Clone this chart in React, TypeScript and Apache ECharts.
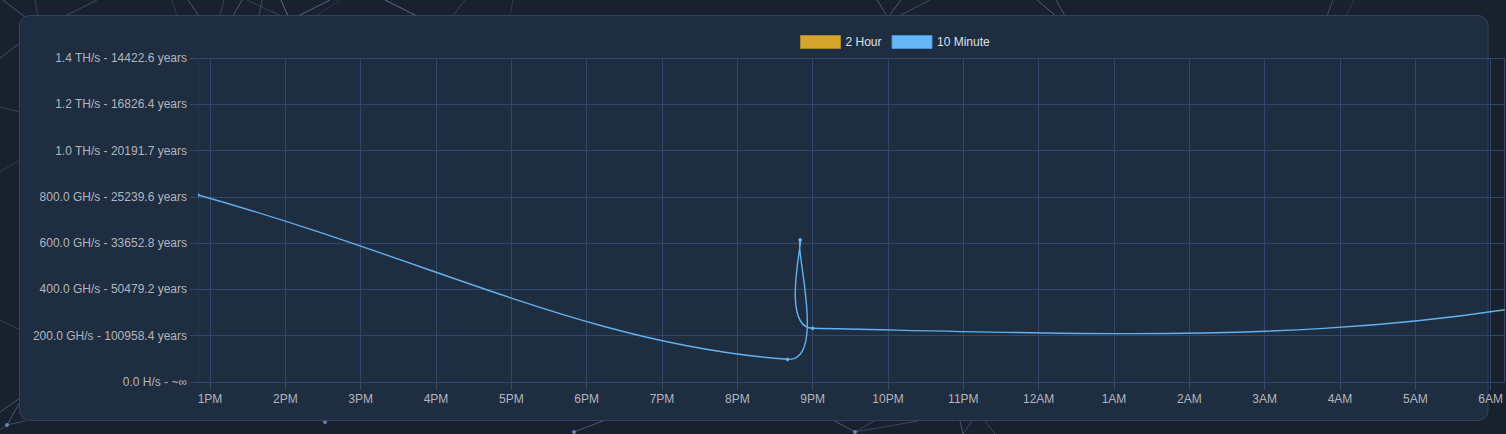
import React, { useEffect, useRef } from "react";
import * as echarts from "echarts";

// ---- data ----
const tenMinuteTimes = [
  "2024-05-10 12:50:27",
  "2024-05-10 20:40:00",
  "2024-05-10 20:50:00",
  "2024-05-10 21:00:00",
  "2024-05-11 09:15:00",
  "2024-05-11 09:35:00",
];
const tenMinuteHashrateGH = [808, 98, 614, 232, 533, 1448];

const twoHourTimes: string[] = [];
const twoHourHashrateGH: number[] = [];

const xAxisStart = "2024-05-10 12:50:27";
const xAxisEnd = "2024-05-11 06:11:08";

const yTickLabels = [
  "0.0 H/s - ~∞",
  "200.0 GH/s - 100958.4 years",
  "400.0 GH/s - 50479.2 years",
  "600.0 GH/s - 33652.8 years",
  "800.0 GH/s - 25239.6 years",
  "1.0 TH/s - 20191.7 years",
  "1.2 TH/s - 16826.4 years",
  "1.4 TH/s - 14422.6 years",
];
const hourLabels = [
  "12AM", "1AM", "2AM", "3AM", "4AM", "5AM", "6AM", "7AM", "8AM", "9AM", "10AM", "11AM",
  "12PM", "1PM", "2PM", "3PM", "4PM", "5PM", "6PM", "7PM", "8PM", "9PM", "10PM", "11PM",
];
const seriesNames = ["2 Hour", "10 Minute"];

// ---- styles ----
const FONT = "'Liberation Sans', Arial, Helvetica, sans-serif";
const PAGE_BG = "#19202e";
const CARD_BG = "#1f2d40";
const CARD_BORDER = "#2f4363";
const GRID = "#33476a";
const LABEL = "#b1b6be";
const LINE_BLUE = "#60b2f2";
const GOLD = "#d4a52a";

function toTs(s: string): number {
  const [d, t] = s.split(" ");
  const [Y, M, D] = d.split("-").map(Number);
  const [h, m, sec] = t.split(":").map(Number);
  return new Date(Y, M - 1, D, h, m, sec || 0).getTime();
}

// Chart.js-style cardinal spline (tension) through pixel points
function splinePath(pts: number[][], t: number): string {
  const n = pts.length;
  const cps = pts.map((p, i) => {
    const prev = pts[Math.max(0, i - 1)];
    const next = pts[Math.min(n - 1, i + 1)];
    const d01 = Math.hypot(p[0] - prev[0], p[1] - prev[1]);
    const d12 = Math.hypot(next[0] - p[0], next[1] - p[1]);
    let s01 = d01 / (d01 + d12);
    let s12 = d12 / (d01 + d12);
    if (isNaN(s01)) s01 = 0;
    if (isNaN(s12)) s12 = 0;
    const fa = t * s01;
    const fb = t * s12;
    return {
      prev: [p[0] - fa * (next[0] - prev[0]), p[1] - fa * (next[1] - prev[1])],
      next: [p[0] + fb * (next[0] - prev[0]), p[1] + fb * (next[1] - prev[1])],
    };
  });
  let d = `M${pts[0][0]},${pts[0][1]}`;
  for (let i = 1; i < n; i++) {
    d += ` C${cps[i - 1].next[0]},${cps[i - 1].next[1]} ${cps[i].prev[0]},${cps[i].prev[1]} ${pts[i][0]},${pts[i][1]}`;
  }
  return d;
}

// decorative background network (page backdrop)
const bgLines: number[][] = [
  [3, 0, 25, 17, 0.45], [35, 0, 38, 16, 0.3], [97, 0, 65, 16, 0.35], [172, 0, 177, 16, 0.2],
  [188, 0, 199, 16, 0.45], [224, 0, 220, 16, 0.3], [242, 0, 233, 16, 0.45], [247, 0, 281, 16, 0.25],
  [262, 0, 259, 16, 0.35], [281, 0, 288, 16, 0.6], [330, 0, 298, 16, 0.55], [340, 0, 316, 16, 0.2],
  [385, 0, 417, 16, 0.6], [465, 0, 453, 16, 0.25], [513, 0, 510, 16, 0.2],
  [877, 0, 887, 16, 0.45], [901, 0, 889, 16, 0.45], [930, 0, 899, 16, 0.35],
  [1037, 0, 1056, 16, 0.5], [1056, 0, 1065, 16, 0.45], [1333, 0, 1327, 16, 0.35], [1354, 0, 1346, 16, 0.2],
  [0, 58, 20, 43, 0.35], [0, 107, 20, 112, 0.25], [0, 172, 20, 160, 0.2], [0, 320, 20, 330, 0.25],
  [0, 412, 20, 398, 0.4], [7, 425, 20, 402, 0.45], [7, 425, 25, 421, 0.35], [0, 430, 7, 425, 0.3],
  [574, 432, 603, 421, 0.45], [835, 421, 855, 432, 0.45], [855, 432, 918, 421, 0.3],
  [855, 432, 874, 421, 0.3], [960, 421, 963, 434, 0.45], [972, 421, 963, 434, 0.35], [985, 421, 995, 434, 0.3],
];
const bgNodes: number[][] = [[7, 425], [574, 432], [855, 432], [325, 422]];

export default function App() {
  const ref = useRef<HTMLDivElement>(null);

  useEffect(() => {
    if (!ref.current) return;
    const chart = echarts.init(ref.current, undefined, { renderer: "svg" });

    const tenMinTs = tenMinuteTimes.map(toTs);
    const tenMinData = tenMinTs.map((t, i) => [t, tenMinuteHashrateGH[i]]);
    const twoHourData = twoHourTimes.map((t, i) => [toTs(t), twoHourHashrateGH[i]]);

    const graphic: any[] = [];
    bgLines.forEach((l) =>
      graphic.push({
        type: "line",
        z: -20,
        silent: true,
        shape: { x1: l[0], y1: l[1], x2: l[2], y2: l[3] },
        style: { stroke: `rgba(130,160,210,${l[4]})`, lineWidth: 1 },
      })
    );
    bgNodes.forEach((n) =>
      graphic.push({
        type: "circle",
        z: -19,
        silent: true,
        shape: { cx: n[0], cy: n[1], r: 2 },
        style: { fill: "rgba(120,150,210,0.8)" },
      })
    );
    graphic.push({
      type: "rect",
      z: -10,
      silent: true,
      shape: { x: 19.5, y: 15.5, width: 1468.5, height: 405, r: 10 },
      style: { fill: CARD_BG, stroke: CARD_BORDER, lineWidth: 1 },
    });

    chart.setOption({
      animation: false,
      backgroundColor: PAGE_BG,
      graphic,
      textStyle: { fontFamily: FONT },
      legend: {
        left: 800,
        top: 35,
        padding: 0,
        itemWidth: 40,
        itemHeight: 13,
        itemGap: 10,
        icon: "rect",
        selectedMode: false,
        textStyle: { color: "#dde1e6", fontSize: 12, fontFamily: FONT },
        data: [
          { name: seriesNames[0], itemStyle: { color: GOLD, borderColor: "#a5852f", borderWidth: 1 } },
          { name: seriesNames[1], itemStyle: { color: "#64b6f7", borderColor: "#4a8fd4", borderWidth: 1 } },
        ],
      },
      grid: { left: 198, right: 0, top: 58, bottom: 52, containLabel: false },
      xAxis: {
        type: "time",
        min: toTs(xAxisStart),
        max: toTs(xAxisEnd),
        minInterval: 3600 * 1000,
        maxInterval: 3600 * 1000,
        splitNumber: 18,
        axisLine: { show: true, lineStyle: { color: GRID, width: 1 } },
        axisTick: { show: true, length: 8, lineStyle: { color: GRID, width: 1 } },
        splitLine: { show: true, lineStyle: { color: GRID, width: 1 } },
        minorTick: { show: false },
        axisLabel: {
          color: LABEL,
          fontSize: 12,
          fontFamily: FONT,
          margin: 11,
          hideOverlap: false,
          formatter: (v: number) => hourLabels[new Date(v).getHours()],
        },
      },
      yAxis: {
        type: "value",
        min: 0,
        max: 1400,
        interval: 200,
        axisLine: { show: true, lineStyle: { color: "rgba(0,0,0,0.22)", width: 1 } },
        axisTick: { show: true, length: 8, lineStyle: { color: GRID, width: 1 } },
        splitLine: { show: true, lineStyle: { color: GRID, width: 1 } },
        axisLabel: {
          color: LABEL,
          fontSize: 12,
          fontFamily: FONT,
          margin: 11,
          formatter: (v: number) => yTickLabels[Math.round(v / 200)] ?? "",
        },
      },
      series: [
        {
          name: seriesNames[0],
          type: "line",
          data: twoHourData,
          color: GOLD,
          showSymbol: false,
        },
        {
          name: seriesNames[1],
          type: "custom",
          color: LINE_BLUE,
          clip: true,
          encode: { x: 0, y: 1 },
          data: tenMinData,
          renderItem: (params: any, api: any) => {
            const children: any[] = [];
            if (params.dataIndex === 0) {
              const pts = tenMinData.map((d) => api.coord([d[0], d[1]]));
              children.push({
                type: "path",
                shape: { pathData: splinePath(pts, 0.4) },
                style: { stroke: LINE_BLUE, fill: "none", lineWidth: 1.4 },
              });
            }
            const p = api.coord([api.value(0), api.value(1)]);
            children.push({
              type: "circle",
              shape: { cx: p[0], cy: p[1], r: 1.8 },
              style: { fill: LINE_BLUE },
            });
            return { type: "group", children };
          },
        },
      ],
    });

    return () => chart.dispose();
  }, []);

  return (
    <div
      ref={ref}
      style={{ position: "absolute", left: 0, top: 0, width: 1506, height: 434 }}
    />
  );
}
